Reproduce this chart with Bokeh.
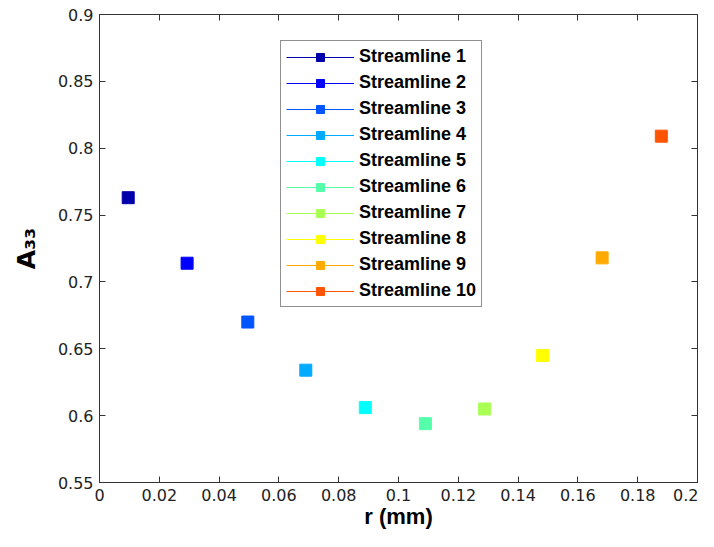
from bokeh.plotting import figure
from bokeh.models import LinearAxis, FixedTicker, Legend, LegendItem, Range1d
from bokeh.embed import file_html
from bokeh.resources import INLINE

# ---- data ----
r_mm = [0.0096, 0.0293, 0.0496, 0.0690, 0.0889, 0.1090, 0.1288, 0.1482, 0.1681, 0.1879]
a33 = [0.763, 0.714, 0.670, 0.634, 0.606, 0.594, 0.605, 0.645, 0.718, 0.809]
series_names = ["Streamline 1", "Streamline 2", "Streamline 3", "Streamline 4", "Streamline 5",
                "Streamline 6", "Streamline 7", "Streamline 8", "Streamline 9", "Streamline 10"]
series_colors = ["#0000AA", "#0000FF", "#0055FF", "#00AAFF", "#00FFFF",
                 "#55FFAA", "#AAFF55", "#FFFF00", "#FFAA00", "#FF5500"]
x_ticks = [0.0, 0.02, 0.04, 0.06, 0.08, 0.1, 0.12, 0.14, 0.16, 0.18, 0.2]
x_tick_labels = ["0", "0.02", "0.04", "0.06", "0.08", "0.1", "0.12", "0.14", "0.16", "0.18", "0.2"]
y_ticks = [0.55, 0.6, 0.65, 0.7, 0.75, 0.8, 0.85, 0.9]
y_tick_labels = ["0.55", "0.6", "0.65", "0.7", "0.75", "0.8", "0.85", "0.9"]
x_title = "r (mm)"
y_title = "A\u2083\u2083"

AX = "#333333"
TICK_FONT = "DejaVu Sans"
BOLD_FONT = "Liberation Sans"

p = figure(width=698, height=531,
           x_range=Range1d(0, 0.2), y_range=Range1d(0.55, 0.9),
           output_backend="svg", toolbar_location=None,
           min_border_left=99, min_border_right=1, min_border_top=14, min_border_bottom=44,
           background_fill_color="white", border_fill_color="white")
p.xgrid.visible = False
p.ygrid.visible = False
p.outline_line_color = AX
p.outline_line_width = 1


def style_axis(ax, ticks, labels, show_labels=True):
    ax.ticker = FixedTicker(ticks=ticks)
    ax.minor_tick_line_color = None
    ax.minor_tick_in = 0
    ax.minor_tick_out = 0
    ax.major_tick_in = 6
    ax.major_tick_out = 0
    ax.major_tick_line_color = AX
    ax.axis_line_color = AX
    if show_labels:
        ax.major_label_overrides = dict(zip(ticks, labels))
        ax.major_label_text_font = TICK_FONT
        ax.major_label_text_font_size = "16px"
        ax.major_label_text_color = "#222222"
        ax.major_label_standoff = 6
    else:
        ax.major_label_overrides = {t: "" for t in ticks}
        ax.major_label_text_font_size = "0px"
        ax.major_label_standoff = 0


style_axis(p.xaxis[0], x_ticks, x_tick_labels)
style_axis(p.yaxis[0], y_ticks, y_tick_labels)

for ax, title, standoff in ((p.xaxis[0], x_title, 0), (p.yaxis[0], y_title, 14)):
    ax.axis_label = title
    ax.axis_label_text_font = BOLD_FONT
    ax.axis_label_text_font_style = "bold"
    ax.axis_label_text_font_size = "22px"
    ax.axis_label_text_color = "black"
    ax.axis_label_standoff = standoff
p.yaxis[0].axis_label_text_font = "DejaVu Sans"
p.yaxis[0].axis_label_text_font_size = "25px"

top_axis = LinearAxis()
right_axis = LinearAxis()
style_axis(top_axis, x_ticks, x_tick_labels, show_labels=False)
style_axis(right_axis, y_ticks, y_tick_labels, show_labels=False)
p.add_layout(top_axis, "above")
p.add_layout(right_axis, "right")

items = []
for xv, yv, name, col in zip(r_mm, a33, series_names, series_colors):
    ln = p.line([xv], [yv], line_color=col, line_width=1)
    sq = p.scatter([xv], [yv], marker="square", size=12, fill_color=col, line_color=col)
    items.append(LegendItem(label=name, renderers=[ln, sq]))

legend = Legend(items=items, location=(181, 175),
                glyph_width=68, glyph_height=20, label_height=20, spacing=5,
                padding=5, margin=0, label_standoff=5,
                label_text_font=BOLD_FONT, label_text_font_style="bold",
                label_text_font_size="18px", label_text_color="black",
                border_line_color="#222222", border_line_width=1,
                background_fill_color="white", background_fill_alpha=1.0)
p.add_layout(legend)

open("out.html", "w").write(file_html(p, INLINE))
